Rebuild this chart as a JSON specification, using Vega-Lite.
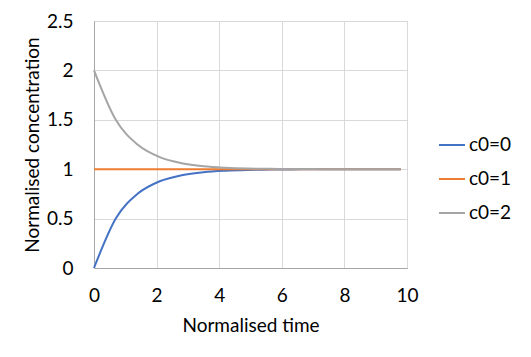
{
  "$schema": "https://vega.github.io/schema/vega-lite/v6.json",
  "width": 313,
  "height": 247,
  "autosize": {"type": "none"},
  "padding": {"left": 94, "top": 21, "right": 124, "bottom": 89},
  "background": "white",
  "config": {
    "font": "Lato",
    "view": {"stroke": "#a6a6a6", "strokeWidth": 1},
    "axis": {"labelFont": "Lato", "titleFont": "Lato", "labelFontSize": 19, "titleFontSize": 19, "titleFontWeight": "normal", "labelColor": "#000", "titleColor": "#000", "gridColor": "#d9d9d9", "domainColor": "#a6a6a6", "ticks": false},
    "legend": {"labelFont": "Lato", "labelFontSize": 19, "labelColor": "#000"}
  },
  "data": {"values": [
    {"t": 0, "c": 0, "s": "c0=0"}, {"t": 0.7, "c": 0.503, "s": "c0=0"}, {"t": 1.4, "c": 0.753, "s": "c0=0"}, {"t": 2.1, "c": 0.878, "s": "c0=0"}, {"t": 2.8, "c": 0.939, "s": "c0=0"}, {"t": 3.5, "c": 0.970, "s": "c0=0"}, {"t": 4.2, "c": 0.985, "s": "c0=0"}, {"t": 4.9, "c": 0.993, "s": "c0=0"}, {"t": 5.6, "c": 0.996, "s": "c0=0"}, {"t": 6.3, "c": 0.998, "s": "c0=0"}, {"t": 7.0, "c": 0.999, "s": "c0=0"}, {"t": 7.7, "c": 1.0, "s": "c0=0"}, {"t": 8.4, "c": 1.0, "s": "c0=0"}, {"t": 9.1, "c": 1.0, "s": "c0=0"}, {"t": 9.8, "c": 1.0, "s": "c0=0"},
    {"t": 0, "c": 1, "s": "c0=1"}, {"t": 0.7, "c": 1, "s": "c0=1"}, {"t": 1.4, "c": 1, "s": "c0=1"}, {"t": 2.1, "c": 1, "s": "c0=1"}, {"t": 2.8, "c": 1, "s": "c0=1"}, {"t": 3.5, "c": 1, "s": "c0=1"}, {"t": 4.2, "c": 1, "s": "c0=1"}, {"t": 4.9, "c": 1, "s": "c0=1"}, {"t": 5.6, "c": 1, "s": "c0=1"}, {"t": 6.3, "c": 1, "s": "c0=1"}, {"t": 7.0, "c": 1, "s": "c0=1"}, {"t": 7.7, "c": 1, "s": "c0=1"}, {"t": 8.4, "c": 1, "s": "c0=1"}, {"t": 9.1, "c": 1, "s": "c0=1"}, {"t": 9.8, "c": 1, "s": "c0=1"},
    {"t": 0, "c": 2, "s": "c0=2"}, {"t": 0.7, "c": 1.497, "s": "c0=2"}, {"t": 1.4, "c": 1.247, "s": "c0=2"}, {"t": 2.1, "c": 1.122, "s": "c0=2"}, {"t": 2.8, "c": 1.061, "s": "c0=2"}, {"t": 3.5, "c": 1.030, "s": "c0=2"}, {"t": 4.2, "c": 1.015, "s": "c0=2"}, {"t": 4.9, "c": 1.007, "s": "c0=2"}, {"t": 5.6, "c": 1.004, "s": "c0=2"}, {"t": 6.3, "c": 1.002, "s": "c0=2"}, {"t": 7.0, "c": 1.001, "s": "c0=2"}, {"t": 7.7, "c": 1.0, "s": "c0=2"}, {"t": 8.4, "c": 1.0, "s": "c0=2"}, {"t": 9.1, "c": 1.0, "s": "c0=2"}, {"t": 9.8, "c": 1.0, "s": "c0=2"}
  ]},
  "mark": {"type": "line", "interpolate": "monotone", "strokeWidth": 2},
  "encoding": {
    "x": {"field": "t", "type": "quantitative", "scale": {"domain": [0, 10], "nice": false},
      "axis": {"title": "Normalised time", "values": [0, 2, 4, 6, 8, 10], "labelPadding": 18, "titleX": 156.5, "titleY": 57, "titleBaseline": "middle", "titleAlign": "center", "labelFlush": false}},
    "y": {"field": "c", "type": "quantitative", "scale": {"domain": [0, 2.5], "nice": false},
      "axis": {"title": "Normalised concentration", "values": [0, 0.5, 1, 1.5, 2, 2.5], "format": "~g", "labelPadding": 21, "titleX": -62, "titleY": 123.5, "titleBaseline": "middle", "titleAlign": "center", "titleAngle": -90, "labelFlush": false}},
    "color": {"field": "s", "type": "nominal",
      "scale": {"domain": ["c0=0", "c0=1", "c0=2"], "range": ["#4472c4", "#ed7d31", "#a5a5a5"]},
      "legend": {"title": null, "orient": "none", "legendX": 344, "legendY": 110, "symbolType": "stroke", "symbolSize": 676, "symbolStrokeWidth": 2, "labelOffset": 3, "rowPadding": 10}}
  }
}
